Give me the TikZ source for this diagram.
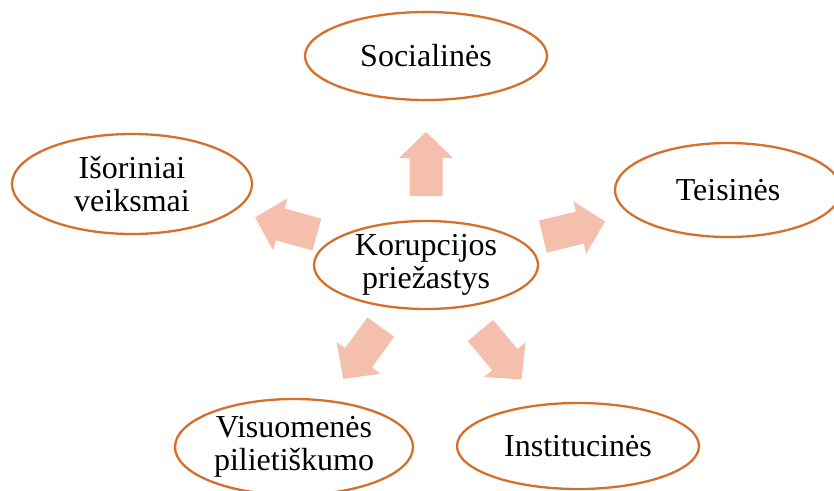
\documentclass[tikz,border=0pt]{standalone}
\usepackage{fontspec}
\setmainfont{Liberation Serif}
\usetikzlibrary{shapes.geometric}
\definecolor{ringorange}{RGB}{212,112,44}
\definecolor{arrowfill}{RGB}{244,191,173}
\tikzset{
  oval/.style={ellipse, draw=ringorange, line width=2.3pt, fill=white, inner sep=0pt,
    align=center, font=\fontsize{32}{33}\selectfont},
  barrow/.pic={\fill[arrowfill] (-32,-16.5) -- (6,-16.5) -- (6,-27) -- (32,0) -- (6,27) -- (6,16.5) -- (-32,16.5) -- cycle;}
}
\begin{document}
\begin{tikzpicture}[x=1pt,y=-1pt]
\useasboundingbox (0,0) rectangle (834,490);
\fill[white] (0,0) rectangle (834,490);
% arrows
\pic[rotate=90] at (426,164) {barrow};
\pic[rotate=13.7] at (574,229) {barrow};
\pic[rotate=164.5] at (286,226) {barrow};
\pic[rotate=-126] at (362,353) {barrow};
\pic[rotate=-50] at (501,355) {barrow};
% ellipses
\node[oval, minimum width=242pt, minimum height=88pt] (soc) at (426,56) {Socialinės};
\node[oval, minimum width=240pt, minimum height=100pt] (isor) at (132,184) {Išoriniai\\veiksmai};
\node[oval, minimum width=226pt, minimum height=94pt] (teis) at (728,190) {Teisinės};
\node[oval, minimum width=224pt, minimum height=88pt] (kor) at (426,265) {Korupcijos\\priežastys};
\node[oval, minimum width=238pt, minimum height=96pt] (vis) at (294,447) {Visuomenės\\pilietiškumo};
\node[oval, minimum width=242pt, minimum height=86pt] (inst) at (578,446) {Institucinės};
\end{tikzpicture}
\end{document}
